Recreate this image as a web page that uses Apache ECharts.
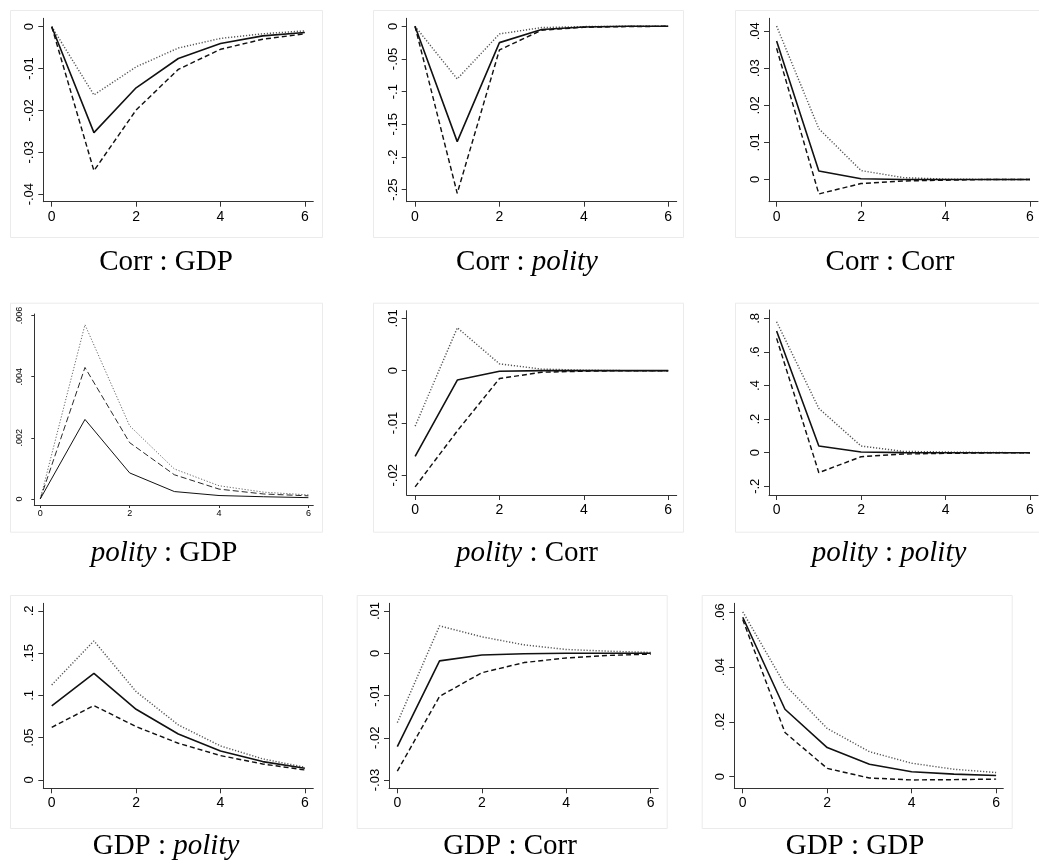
<!DOCTYPE html>
<html><head><meta charset="utf-8">
<style>html,body{margin:0;padding:0;background:#fff}#c{width:1039px;height:867px}</style>
<script src="https://cdn.jsdelivr.net/npm/echarts@6/dist/echarts.min.js"></script>
</head><body><div id="c"></div>
<script>
// ---------- data ----------
const horizon = [0, 1, 2, 3, 4, 5, 6];
const xTickValues = [0, 2, 4, 6];

// Corr : GDP
const corrGdpIrf = [0, -0.0253, -0.0146, -0.0076, -0.0040, -0.0022, -0.0014];
const corrGdpLo  = [0, -0.0344, -0.0199, -0.0102, -0.0054, -0.0030, -0.0017];
const corrGdpHi  = [0, -0.0163, -0.0096, -0.0051, -0.0028, -0.0017, -0.0010];
const corrGdpTicks = [-0.04, -0.03, -0.02, -0.01, 0];

// Corr : polity
const corrPolityIrf = [0, -0.1765, -0.025, -0.005, -0.001, 0, 0];
const corrPolityLo  = [0, -0.2556, -0.0362, -0.006, -0.0015, -0.0005, 0];
const corrPolityHi  = [0, -0.0806, -0.0117, -0.002, -0.0005, 0, 0];
const corrPolityTicks = [-0.25, -0.2, -0.15, -0.1, -0.05, 0];

// Corr : Corr
const corrCorrIrf = [0.0374, 0.0023, 0.0002, 0, 0, 0, 0];
const corrCorrLo  = [0.0354, -0.0039, -0.0011, -0.0004, -0.0002, 0, 0];
const corrCorrHi  = [0.0414, 0.0137, 0.0024, 0.0005, 0.0001, 0, 0];
const corrCorrTicks = [0, 0.01, 0.02, 0.03, 0.04];

// polity : GDP
const polityGdpIrf = [0, 0.0026, 0.00085, 0.00024, 0.00011, 0.00007, 0.00004];
const polityGdpLo  = [0, 0.0043, 0.00184, 0.00079, 0.00032, 0.00016, 0.0001];
const polityGdpHi  = [0, 0.0057, 0.00239, 0.00098, 0.00043, 0.00022, 0.00013];
const polityGdpTicks = [0, 0.002, 0.004, 0.006];

// polity : Corr
const polityCorrIrf = [-0.0164, -0.0018, -0.0001, 0, 0, 0, 0];
const polityCorrLo  = [-0.0222, -0.0115, -0.0015, -0.0003, -0.0001, 0, 0];
const polityCorrHi  = [-0.0106, 0.0082, 0.0013, 0.0003, 0.0001, 0, 0];
const polityCorrTicks = [-0.02, -0.01, 0, 0.01];

// polity : polity
const polityPolityIrf = [0.7246, 0.0397, 0.004, 0.0005, 0, 0, 0];
const polityPolityLo  = [0.681, -0.119, -0.024, -0.008, -0.004, -0.001, 0];
const polityPolityHi  = [0.780, 0.264, 0.0397, 0.008, 0.004, 0.001, 0];
const polityPolityTicks = [-0.2, 0, 0.2, 0.4, 0.6, 0.8];

// GDP : polity
const gdpPolityIrf = [0.0876, 0.1262, 0.0836, 0.0544, 0.0343, 0.0217, 0.0138];
const gdpPolityLo  = [0.0623, 0.088, 0.0631, 0.0434, 0.0288, 0.0189, 0.0118];
const gdpPolityHi  = [0.1124, 0.1645, 0.1045, 0.0651, 0.0402, 0.0249, 0.015];
const gdpPolityTicks = [0, 0.05, 0.1, 0.15, 0.2];

// GDP : Corr
const gdpCorrIrf = [-0.0221, -0.0018, -0.0004, -0.0001, 0, 0, 0];
const gdpCorrLo  = [-0.0279, -0.0102, -0.0046, -0.0022, -0.0011, -0.0005, -0.0002];
const gdpCorrHi  = [-0.0164, 0.0065, 0.0039, 0.002, 0.0009, 0.0005, 0.0002];
const gdpCorrTicks = [-0.03, -0.02, -0.01, 0, 0.01];

// GDP : GDP
const gdpGdpIrf = [0.0582, 0.0246, 0.0106, 0.0045, 0.0018, 0.0009, 0.0004];
const gdpGdpLo  = [0.0574, 0.0161, 0.003, -0.0005, -0.0012, -0.0011, -0.0009];
const gdpGdpHi  = [0.0602, 0.0335, 0.0176, 0.0091, 0.0049, 0.0027, 0.0015];
const gdpGdpTicks = [0, 0.02, 0.04, 0.06];

const captions = [
  'Corr : GDP', 'Corr : {i|polity}', 'Corr : Corr',
  '{i|polity} : GDP', '{i|polity} : Corr', '{i|polity} : {i|polity}',
  'GDP : {i|polity}', 'GDP : Corr', 'GDP : GDP'
];

// ---------- layout ----------
const panels = [
  {irf: corrGdpIrf, lo: corrGdpLo, hi: corrGdpHi, ticks: corrGdpTicks,
   g: [43.3, 18.3, 270, 183.4], x: [-0.2, 6.2], y: [-0.0418, 0.002], f: [10, 10, 312, 227], c: [166, 262], fs: [13, 14], lw: 1.6},
  {irf: corrPolityIrf, lo: corrPolityLo, hi: corrPolityHi, ticks: corrPolityTicks,
   g: [406.7, 18.3, 270, 183.4], x: [-0.197, 6.2], y: [-0.2684, 0.0122], f: [373, 10, 310, 227], c: [527, 262], fs: [13, 14], lw: 1.6},
  {irf: corrCorrIrf, lo: corrCorrLo, hi: corrCorrHi, ticks: corrCorrTicks,
   g: [769, 18.3, 269, 183.4], x: [-0.18, 6.19], y: [-0.006, 0.0435], f: [735, 10, 320, 227], c: [890, 262], fs: [13, 14], lw: 1.6},
  {irf: polityGdpIrf, lo: polityGdpLo, hi: polityGdpHi, ticks: polityGdpTicks,
   g: [34.3, 314, 279, 191], x: [-0.134, 6.11], y: [-0.0002, 0.00605], f: [10, 302.7, 312, 229], c: [164, 553], fs: [9, 9], lw: 1},
  {irf: polityCorrIrf, lo: polityCorrLo, hi: polityCorrHi, ticks: polityCorrTicks,
   g: [406.7, 310.7, 270, 184.3], x: [-0.2, 6.2], y: [-0.02376, 0.01146], f: [373, 302.7, 310, 229], c: [527, 553], fs: [13, 14], lw: 1.6},
  {irf: polityPolityIrf, lo: polityPolityLo, hi: polityPolityHi, ticks: polityPolityTicks,
   g: [769, 310, 269, 185], x: [-0.18, 6.19], y: [-0.252, 0.85], f: [735, 302.7, 320, 229], c: [889, 553], fs: [13, 14], lw: 1.6},
  {irf: gdpPolityIrf, lo: gdpPolityLo, hi: gdpPolityHi, ticks: gdpPolityTicks,
   g: [43.3, 603.3, 270, 185], x: [-0.2, 6.2], y: [-0.0099, 0.209], f: [10, 595, 312, 233], c: [166, 846], fs: [13, 14], lw: 1.6},
  {irf: gdpCorrIrf, lo: gdpCorrLo, hi: gdpCorrHi, ticks: gdpCorrTicks,
   g: [389, 603.3, 269.3, 185], x: [-0.197, 6.18], y: [-0.03195, 0.01183], f: [356.7, 595, 310, 233], c: [510, 846], fs: [13, 14], lw: 1.6},
  {irf: gdpGdpIrf, lo: gdpGdpLo, hi: gdpGdpHi, ticks: gdpGdpTicks,
   g: [734.3, 603.3, 269, 185], x: [-0.2, 6.17], y: [-0.00426, 0.0633], f: [701.7, 595, 310, 233], c: [855, 846], fs: [13, 14], lw: 1.6}
];

function stataFmt(v) {
  if (v === 0) return '0';
  return String(v).replace(/^(-?)0\./, '$1.');
}
const pts = arr => horizon.map((h, i) => [h, arr[i]]);

const grid = [], xAxis = [], yAxis = [], series = [], graphic = [];
const axisCol = '#333';
const capFont = 29;
panels.forEach((p, i) => {
  const small = p.fs[0] < 10;
  grid.push({left: p.g[0], top: p.g[1], width: p.g[2], height: p.g[3], containLabel: false, outerBoundsMode: 'none'});
  xAxis.push({
    type: 'value', gridIndex: i, min: p.x[0], max: p.x[1], position: 'bottom',
    splitLine: {show: false},
    axisLine: {show: true, onZero: false, lineStyle: {color: axisCol, width: 1}},
    axisTick: {show: true, length: small ? 3 : 5, lineStyle: {color: axisCol}, customValues: xTickValues},
    axisLabel: {show: true, customValues: xTickValues, formatter: stataFmt, color: '#000',
      fontFamily: 'Liberation Sans, Arial, sans-serif', fontSize: p.fs[1], margin: small ? 4 : 8}
  });
  yAxis.push({
    type: 'value', gridIndex: i, min: p.y[0], max: p.y[1], position: 'left',
    splitLine: {show: false},
    axisLine: {show: true, onZero: false, lineStyle: {color: axisCol, width: 1}},
    axisTick: {show: true, length: small ? 3 : 5, lineStyle: {color: axisCol}, customValues: p.ticks},
    axisLabel: {show: true, customValues: p.ticks, formatter: stataFmt, rotate: 90, color: '#000',
      fontFamily: 'Liberation Sans, Arial, sans-serif', fontSize: p.fs[0], margin: small ? 10 : 7}
  });
  const base = {type: 'line', xAxisIndex: i, yAxisIndex: i, symbol: 'none', silent: true, animation: false};
  series.push(Object.assign({}, base, {data: pts(p.hi), z: 2,
    lineStyle: {color: '#555', width: p.lw * 0.9, type: [1.2, 1.8]}}));
  series.push(Object.assign({}, base, {data: pts(p.lo), z: 3,
    lineStyle: {color: '#111', width: p.lw * 0.9, type: small ? [6, 3] : [5, 3]}}));
  series.push(Object.assign({}, base, {data: pts(p.irf), z: 4,
    lineStyle: {color: '#111', width: p.lw, type: 'solid'}}));
  graphic.push({type: 'rect', z: -10, silent: true,
    shape: {x: p.f[0] + 0.5, y: p.f[1] + 0.5, width: p.f[2], height: p.f[3]},
    style: {fill: '#fff', stroke: '#ebebeb', lineWidth: 1}});
  graphic.push({type: 'text', silent: true, x: p.c[0], y: p.c[1],
    style: {text: captions[i], align: 'center', verticalAlign: 'middle',
      fontFamily: 'Liberation Serif, serif', fontSize: capFont, fill: '#000',
      rich: {i: {fontStyle: 'italic', fontFamily: 'Liberation Serif, serif', fontSize: capFont, fill: '#000'}}}});
});

const chart = echarts.init(document.getElementById('c'), null, {renderer: 'canvas'});
chart.setOption({animation: false, backgroundColor: '#fff', grid, xAxis, yAxis, series, graphic});
</script></body></html>
